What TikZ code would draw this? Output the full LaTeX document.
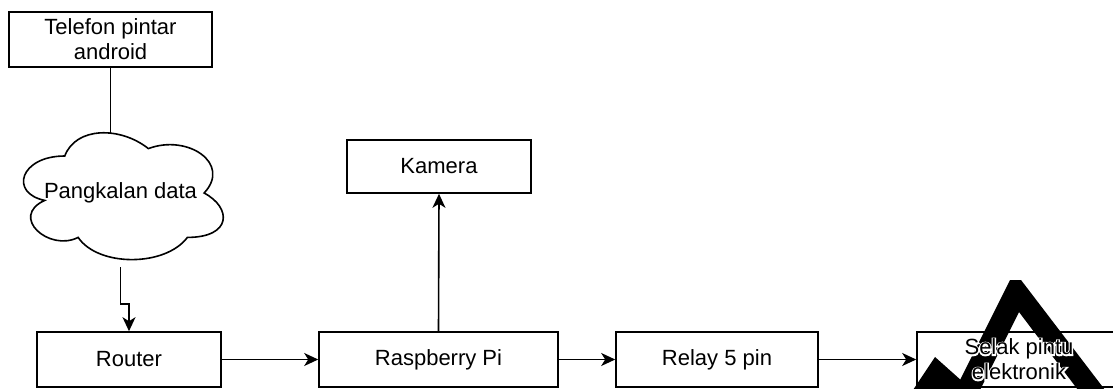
\documentclass[tikz,border=0pt]{standalone}
\usepackage{fontspec}
\setmainfont{Liberation Sans}
\newfontfamily\halofont[FakeBold=12]{Liberation Sans}
\usetikzlibrary{arrows.meta}
\begin{document}
\begin{tikzpicture}[x=1pt,y=-1pt,
  box/.style={draw=black, line width=1.6pt, fill=white, minimum width=#1, minimum height=55pt,
    inner sep=0pt, align=center, font=\fontsize{22}{25}\selectfont},
  lbl/.style={inner sep=0pt, align=center, font=\fontsize{22}{25}\selectfont},
  arr/.style={line width=1.6pt, -{Stealth[length=14pt,width=13pt,inset=4pt]}},
  ln/.style={line width=1.6pt},
  wm/.style={fill=black}]
\clip (0,0) rectangle (1113,388);
\fill[white] (0,0) rectangle (1113,388);

% cloud outline (draw.io cloud shape)
\begin{scope}[shift={(9pt,-119pt)}, x=223pt, y=-148pt]
\draw[line width=1.6pt, fill=white]
  (0.25,0.25) .. controls (0.05,0.25) and (0,0.5) .. (0.16,0.55)
  .. controls (0,0.66) and (0.18,0.9) .. (0.31,0.8)
  .. controls (0.4,1) and (0.7,1) .. (0.8,0.8)
  .. controls (1,0.8) and (1,0.6) .. (0.875,0.5)
  .. controls (1,0.3) and (0.8,0.1) .. (0.625,0.2)
  .. controls (0.5,0.05) and (0.3,0.05) .. (0.25,0.25) -- cycle;
\end{scope}

\node[box=203pt] (tel) at (110.5,39.5) {Telefon pintar\\android};
\node[lbl, minimum width=223pt, minimum height=148pt] (db) at (120.5,193) {Pangkalan data};
\coordinate (cloudtop) at (110,133);
\node[box=184pt] (router) at (129,359.5) {Router};
\node[box=239pt] (rasp) at (438.5,359.5) {Raspberry Pi};
\node[box=184pt, minimum height=53pt] (kam) at (439,166.5) {Kamera};
\node[box=202pt] (relay) at (717,359.5) {Relay 5 pin};
\node[box=204pt] (selak) at (1019,359.5) {};

\draw[ln] (tel.south) -- (tel.south |- cloudtop);
\draw[arr] (db.south) -- ++(0,37) -| (router.north);
\draw[arr] (router.east) -- (rasp.west);
\draw[arr] (rasp.north) -- (kam.south);
\draw[arr] (rasp.east) -- (relay.west);
\draw[arr] (relay.east) -- (selak.west);

% watermark strokes
\fill[wm] (935,357) -- (972,390) -- (913,390) -- cycle;
\fill[wm] (955,390) -- (1010,280) -- (1021,280) -- (1105,390) -- (1078,390)
  -- (1019,312) -- (980,390) -- cycle;

\node[lbl, text=white] (selakhalo) at (selak.center) {\halofont Selak pintu\\\halofont elektronik};
\node[lbl] (selaktxt) at (selak.center) {Selak pintu\\elektronik};
\end{tikzpicture}
\end{document}
